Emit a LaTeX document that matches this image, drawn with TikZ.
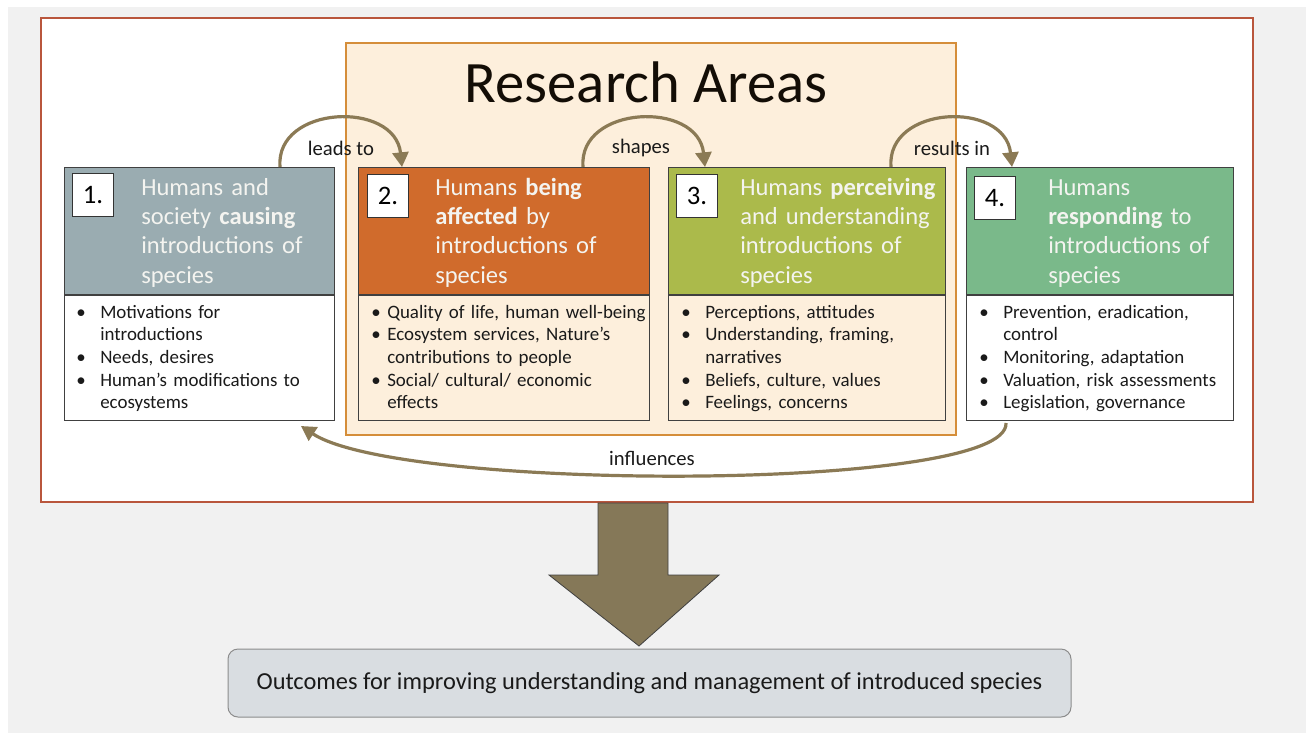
\documentclass[tikz,border=0pt]{standalone}
\usepackage{fontspec}
\setmainfont{Carlito}
\usetikzlibrary{arrows.meta,calc}

\definecolor{bggray}{HTML}{F1F1F1}
\definecolor{framered}{HTML}{B9563C}
\definecolor{peach}{HTML}{FDEFDC}
\definecolor{peachedge}{HTML}{D58E3A}
\definecolor{hdrone}{HTML}{9AACB1}
\definecolor{hdrtwo}{HTML}{D06B2C}
\definecolor{hdrthree}{HTML}{ABBA4B}
\definecolor{hdrfour}{HTML}{7AB98A}
\definecolor{linkbrown}{HTML}{8B7A55}
\definecolor{bigbrown}{HTML}{857858}
\definecolor{outfill}{HTML}{D9DDE1}
\definecolor{inktext}{HTML}{1A1A1A}
\definecolor{hdrtext}{HTML}{F4F4F0}

\newlength\bgap
\newcommand\bitem[1]{\noindent\hangindent=\bgap\hangafter=1\makebox[\bgap][l]{\textbullet}#1\par}

\tikzset{
  hdrbox/.style={draw=black!75, line width=0.75pt, inner sep=0pt, minimum height=95.25pt, anchor=north west},
  bodybox/.style={draw=black!75, line width=0.75pt, inner sep=0pt, minimum height=93.75pt, anchor=north west},
  numbox/.style={draw=black!80, fill=white, line width=0.75pt, inner sep=0pt, minimum width=30.75pt, minimum height=32.25pt, anchor=north west, font=\fontsize{20pt}{22pt}\selectfont, text=black},
  hdrlines/.style={anchor=base west, inner sep=0pt, text width=150pt, align=left, text=hdrtext, font=\fontsize{18.4pt}{22.1pt}\selectfont},
  bulletlines/.style={anchor=base west, inner sep=0pt, text width=260pt, align=left, text=inktext, font=\fontsize{14.2pt}{17pt}\selectfont},
  linklabel/.style={inner sep=0pt, text=inktext, font=\fontsize{15.5pt}{18pt}\selectfont},
  link/.style={draw=linkbrown, line width=2.4pt, -{Triangle[width=12pt,length=11pt]}},
}

\begin{document}
\begin{tikzpicture}[x=0.75pt, y=-0.75pt]
  \path[use as bounding box] (0,0) rectangle (1306,733);
  % page background
  \fill[bggray] (8,7) rectangle (1306,733);

  % outer frame and research areas panel
  \node[draw=framered, fill=white, line width=1.1pt, inner sep=0pt,
        minimum width=909pt, minimum height=363pt] (frame) at (647,260) {};
  \node[draw=peachedge, fill=peach, line width=0.9pt, inner sep=0pt,
        minimum width=457.5pt, minimum height=294pt] (ra) at (651,239) {};
  \node[inner sep=0pt, text=black!90!brown, font=\fontsize{44pt}{50pt}\selectfont] (title) at (646,82) {Research Areas};

  % box 1
  \node[hdrbox, fill=hdrone, minimum width=202.5pt] (h1) at (64,167) {};
  \node[bodybox, fill=white, minimum width=202.5pt] (b1) at (h1.south west) {};
  \node[numbox] (n1) at (72,173) {1.};
  \node[hdrlines] (t1) at (141,195) {Humans and\\ society \textbf{causing}\\ introductions of\\ species};
  \node[bulletlines] (l1) at (76,318) {\setlength\bgap{18pt}%
    \bitem{Motivations for\newline introductions}
    \bitem{Needs, desires}
    \bitem{Human’s modifications to\newline ecosystems}};

  % box 2
  \node[hdrbox, fill=hdrtwo, minimum width=218.25pt] (h2) at (358,167) {};
  \node[bodybox, minimum width=218.25pt] (b2) at (h2.south west) {};
  \node[numbox] (n2) at (367,174) {2.};
  \node[hdrlines] (t2) at (435,195) {Humans \textbf{being}\\ \textbf{affected} by\\ introductions of\\ species};
  \node[bulletlines] (l2) at (371,318) {\setlength\bgap{12pt}%
    \bitem{Quality of life, human well-being}
    \bitem{Ecosystem services, Nature’s\newline contributions to people}
    \bitem{Social/ cultural/ economic\newline effects}};

  % box 3
  \node[hdrbox, fill=hdrthree, minimum width=207.75pt] (h3) at (668,167) {};
  \node[bodybox, minimum width=207.75pt] (b3) at (h3.south west) {};
  \node[numbox] (n3) at (676,174) {3.};
  \node[hdrlines] (t3) at (740,195) {Humans \textbf{perceiving}\\ and understanding\\ introductions of\\ species};
  \node[bulletlines] (l3) at (681,318) {\setlength\bgap{18pt}%
    \bitem{Perceptions, attitudes}
    \bitem{Understanding, framing,\newline narratives}
    \bitem{Beliefs, culture, values}
    \bitem{Feelings, concerns}};

  % box 4
  \node[hdrbox, fill=hdrfour, minimum width=200.25pt] (h4) at (966,167) {};
  \node[bodybox, fill=white, minimum width=200.25pt] (b4) at (h4.south west) {};
  \node[numbox] (n4) at (974,176) {4.};
  \node[hdrlines] (t4) at (1048,195) {Humans\\ \textbf{responding} to\\ introductions of\\ species};
  \node[bulletlines] (l4) at (979,318) {\setlength\bgap{18pt}%
    \bitem{Prevention, eradication,\newline control}
    \bitem{Monitoring, adaptation}
    \bitem{Valuation, risk assessments}
    \bitem{Legislation, governance}};

  % connector end points on the box edges
  \coordinate (p1) at ($(h1.north west)+(216,0)$);
  \coordinate (q2) at ($(h2.north west)+(44,0)$);
  \coordinate (p2) at ($(h2.north west)+(225,0)$);
  \coordinate (q3) at ($(h3.north west)+(37,0)$);
  \coordinate (p3) at ($(h3.north west)+(223,0)$);
  \coordinate (q4) at ($(h4.north west)+(46,0)$);
  \coordinate (p4) at ($(b4.south west)+(40,2)$);
  \coordinate (q1) at ($(b1.south east)+(-34,5)$);

  % arcs between the research areas
  \draw[link] (p1) .. controls +(-5,-62) and +(-7,-67) .. (q2);
  \draw[link] (p2) .. controls +(-5,-62) and +(-7,-67) .. (q3);
  \draw[link] (p3) .. controls +(-5,-62) and +(-7,-67) .. (q4);
  \draw[link] (p4) .. controls +(4,69) and +(100,66) .. (q1);

  \node[linklabel] (lab1) at (341,148) {leads to};
  \node[linklabel] (lab2) at (641,148) {shapes};
  \node[linklabel] (lab3) at (952,148) {results in};
  \node[linklabel] (lab4) at (652,458) {influences};

  % outcomes
  \node[draw=black!45, fill=outfill, line width=0.75pt, rounded corners=7.5pt,
        minimum width=632.25pt, minimum height=51pt, inner sep=0pt, text=inktext,
        font=\fontsize{18.3pt}{21pt}\selectfont] (out) at (649.5,683)
        {Outcomes for improving understanding and management of introduced species};

  % broad arrow from the research areas down to the outcomes
  \draw[fill=bigbrown, draw=black!75, line width=0.6pt, line join=miter]
    (598,503) -- (668,503) -- (668,575) -- (719,575) -- (639,646) -- (549,575) -- (598,575) -- cycle;
\end{tikzpicture}
\end{document}
